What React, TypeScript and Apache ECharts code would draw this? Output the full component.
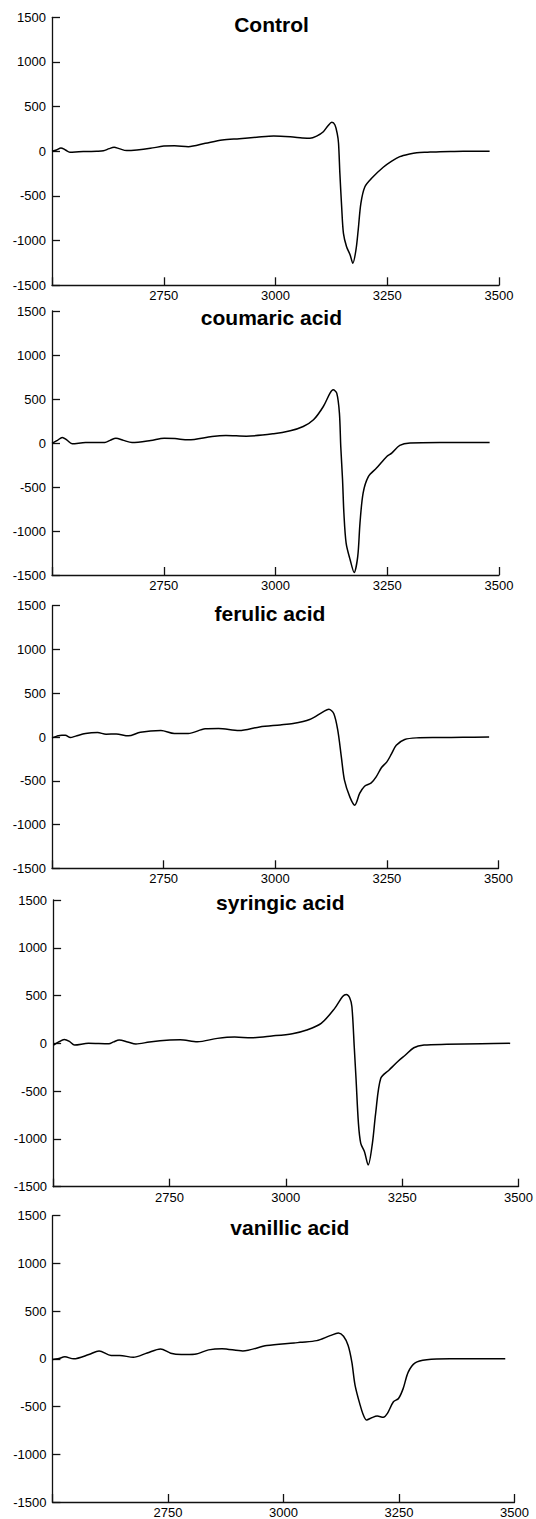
import React, { useEffect, useRef } from "react";
import * as echarts from "echarts";

// EPR spectra: field (G) vs. signal intensity, one panel per treatment.
const panelTitles = ["Control", "coumaric acid", "ferulic acid", "syringic acid", "vanillic acid"];
const xTicks = [2500, 2750, 3000, 3250, 3500];
const yTicks = [-1500, -1000, -500, 0, 500, 1000, 1500];

const control: [number, number][] = [
  [2500, 0], [2510, 15], [2520, 38], [2530, 15], [2540, -10], [2560, -5], [2580, -2], [2600, 0],
  [2615, 5], [2628, 30], [2639, 44], [2650, 30], [2667, 8], [2690, 15], [2720, 33], [2750, 58],
  [2774, 63], [2805, 52], [2843, 89], [2881, 126], [2919, 141], [2958, 157], [2996, 171],
  [3033, 163], [3060, 150], [3077, 145], [3092, 170], [3107, 219], [3118, 290], [3126, 324],
  [3133, 294], [3138, 200], [3141, 90], [3144, -246], [3148, -620], [3152, -918], [3159, -1068],
  [3167, -1160], [3173, -1253], [3180, -1104], [3185, -881], [3191, -582], [3200, -396],
  [3215, -302], [3241, -179], [3260, -110], [3278, -60], [3300, -30], [3316, -16], [3340, -10],
  [3368, -4], [3400, -2], [3440, 0], [3479, 0],
];

const coumaric: [number, number][] = [
  [2500, -5], [2512, 30], [2523, 63], [2533, 35], [2545, -9], [2575, 6], [2618, 6], [2630, 30],
  [2643, 55], [2660, 30], [2679, 6], [2721, 29], [2751, 55], [2775, 50], [2805, 36], [2858, 74],
  [2889, 85], [2935, 78], [2996, 105], [3033, 139], [3062, 188], [3085, 264], [3107, 415],
  [3122, 567], [3129, 604], [3137, 567], [3143, 340], [3146, -40], [3150, -418], [3153, -796],
  [3158, -1137], [3167, -1327], [3176, -1471], [3184, -1289], [3189, -910], [3196, -569],
  [3208, -380], [3226, -285], [3249, -153], [3260, -115], [3278, -28], [3301, 0], [3368, 6],
  [3420, 5], [3479, 5],
];

const ferulic: [number, number][] = [
  [2500, -10], [2511, 10], [2522, 21], [2530, 20], [2541, -6], [2553, 10], [2575, 40], [2602, 51],
  [2621, 32], [2644, 35], [2671, 13], [2698, 55], [2744, 74], [2774, 40], [2805, 40], [2843, 93],
  [2873, 97], [2919, 74], [2965, 115], [3011, 138], [3040, 154], [3077, 200], [3107, 287],
  [3120, 317], [3131, 268], [3140, 78], [3148, -227], [3155, -493], [3167, -684], [3178, -779],
  [3189, -645], [3200, -562], [3215, -524], [3226, -455], [3238, -349], [3250, -284],
  [3260, -196], [3271, -94], [3290, -29], [3316, -10], [3368, -6], [3420, -3], [3479, 0],
];

const syringic: [number, number][] = [
  [2501, -18], [2512, 15], [2524, 40], [2535, 20], [2546, -18], [2576, 0], [2620, -5], [2630, 15],
  [2642, 35], [2660, 15], [2678, -7], [2707, 14], [2751, 35], [2773, 38], [2810, 17], [2853, 52],
  [2890, 66], [2926, 59], [2970, 77], [3014, 101], [3045, 140], [3076, 209], [3105, 366],
  [3122, 490], [3130, 512], [3137, 480], [3142, 383], [3147, -36], [3151, -384], [3156, -837],
  [3161, -1046], [3169, -1134], [3177, -1273], [3186, -1046], [3193, -732], [3204, -366],
  [3222, -279], [3240, -192], [3257, -122], [3275, -46], [3297, -18], [3346, -10], [3420, -4],
  [3482, 0],
];

const vanillic: [number, number][] = [
  [2500, -7], [2512, 0], [2527, 21], [2546, 0], [2579, 45], [2601, 83], [2627, 35], [2646, 35],
  [2675, 17], [2705, 62], [2734, 104], [2756, 59], [2779, 45], [2808, 48], [2838, 94], [2867, 107],
  [2912, 83], [2964, 139], [3023, 166], [3036, 173], [3072, 191], [3101, 243], [3119, 270],
  [3130, 236], [3140, 139], [3148, -35], [3155, -277], [3166, -485], [3173, -589], [3180, -641],
  [3191, -617], [3203, -600], [3216, -613], [3225, -572], [3238, -450], [3249, -416],
  [3259, -312], [3270, -139], [3285, -42], [3310, -10], [3360, 0], [3420, 0], [3480, 0],
];

const seriesData = [control, coumaric, ferulic, syringic, vanillic];

// Plot-area boxes (px) for the five stacked panels
const grids = [
  { left: 52, top: 17.3, width: 447, height: 268 },
  { left: 52, top: 311, width: 447, height: 264 },
  { left: 52, top: 605.7, width: 446.5, height: 262.6 },
  { left: 53.1, top: 900, width: 469, height: 286.7 },
  { left: 52.4, top: 1215.7, width: 462.1, height: 288.6 },
];
const titlePos = [
  [271.5, 24.7], [271.4, 317], [269.9, 613], [280.3, 902.7], [289.9, 1227],
];

const FONT = '"Liberation Sans", Arial, Helvetica, sans-serif';

export default function App() {
  const ref = useRef<HTMLDivElement>(null);
  useEffect(() => {
    if (!ref.current) return;
    const chart = echarts.init(ref.current, undefined, { renderer: "svg" });
    const axisLine = { show: true, onZero: false, lineStyle: { color: "#111", width: 1.3 } };
    const axisTick = { show: true, inside: true, length: 8, lineStyle: { color: "#111", width: 1.3 } };
    chart.setOption({
      animation: false,
      backgroundColor: "#fff",
      grid: grids.map((g) => ({ ...g, containLabel: false })),
      xAxis: grids.map((_, i) => ({
        type: "value",
        gridIndex: i,
        min: xTicks[0],
        max: xTicks[xTicks.length - 1],
        interval: 250,
        axisLine,
        axisTick,
        splitLine: { show: false },
        axisLabel: {
          margin: 4,
          fontSize: 13,
          fontFamily: FONT,
          color: "#000",
          formatter: (v: number) => (v === xTicks[0] ? "" : String(v)),
        },
      })),
      yAxis: grids.map((_, i) => ({
        type: "value",
        gridIndex: i,
        min: yTicks[0],
        max: yTicks[yTicks.length - 1],
        interval: 500,
        axisLine,
        axisTick,
        splitLine: { show: false },
        axisLabel: {
          margin: 6,
          fontSize: 13,
          fontFamily: FONT,
          color: "#000",
          formatter: (v: number) => String(v),
        },
      })),
      series: seriesData.map((d, i) => ({
        type: "line",
        name: panelTitles[i],
        xAxisIndex: i,
        yAxisIndex: i,
        data: d,
        showSymbol: false,
        smooth: 0.3,
        lineStyle: { color: "#000", width: 1.5 },
      })),
      graphic: panelTitles.map((t, i) => ({
        type: "text",
        x: titlePos[i][0],
        y: titlePos[i][1],
        style: {
          text: t,
          fill: "#000",
          fontSize: 21,
          fontWeight: "bold",
          fontFamily: FONT,
          align: "center",
          verticalAlign: "middle",
        },
      })),
    });
    return () => chart.dispose();
  }, []);
  return (
    <div
      ref={ref}
      style={{ position: "absolute", left: 0, top: 0, width: 536, height: 1519 }}
    />
  );
}
